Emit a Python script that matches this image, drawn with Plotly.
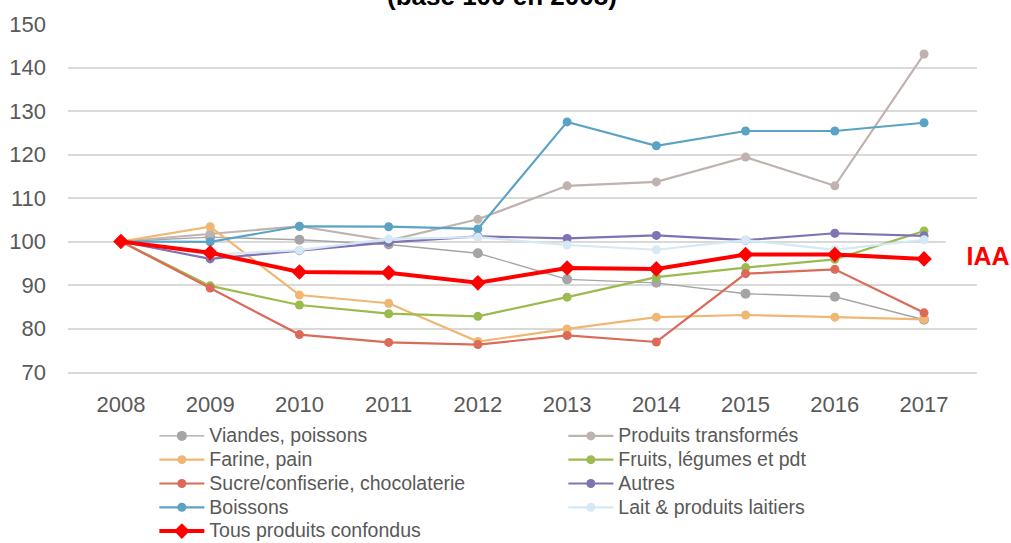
import plotly.graph_objects as go

# Indices des prix par filière (base 100 en 2008)
years = ["2008", "2009", "2010", "2011", "2012", "2013", "2014", "2015", "2016", "2017"]

viandes = [100, 101.0, 100.4, 99.3, 97.3, 91.3, 90.5, 88.0, 87.3, 82.0]
produits_transformes = [100, 101.8, 103.5, 100.2, 105.1, 112.8, 113.7, 119.4, 112.8, 143.1]
farine = [100, 103.4, 87.7, 85.8, 77.0, 79.9, 82.6, 83.1, 82.6, 82.1]
fruits = [100, 89.8, 85.4, 83.4, 82.8, 87.2, 91.8, 94.0, 95.9, 102.4]
sucre = [100, 89.3, 78.6, 76.8, 76.3, 78.4, 76.9, 92.6, 93.6, 83.6]
autres = [100, 96.0, 97.9, 99.8, 101.2, 100.7, 101.4, 100.3, 101.9, 101.3]
boissons = [100, 99.9, 103.5, 103.4, 102.9, 127.5, 122.0, 125.4, 125.4, 127.3]
lait = [100, 97.0, 98.0, 100.6, 101.0, 99.2, 98.1, 100.3, 98.1, 100.4]
tous = [100, 97.4, 93.0, 92.8, 90.5, 93.9, 93.7, 97.0, 97.0, 96.0]

series = [
    ("Viandes, poissons", viandes, "#a5a5a5", 1.4, 10),
    ("Produits transformés", produits_transformes, "#bfb2af", 2.2, 9),
    ("Farine, pain", farine, "#f0b774", 2.2, 9),
    ("Fruits, légumes et pdt", fruits, "#9bbb4f", 2.2, 9),
    ("Sucre/confiserie, chocolaterie", sucre, "#dc6a58", 2.2, 9),
    ("Autres", autres, "#8072b3", 2.2, 9),
    ("Boissons", boissons, "#5ba3c4", 2.2, 9),
    ("Lait & produits laitiers", lait, "#d4e8f5", 2.2, 9),
]

FONT = "Liberation Sans, Arial, sans-serif"


def legend_label(text):
    # larger glyphs while keeping the compact legend row spacing
    return f'<span style="font-size:19.5px">{text}</span>'


fig = go.Figure()
for name, vals, color, lw, ms in series:
    fig.add_trace(go.Scatter(
        x=years, y=vals, name=legend_label(name), mode="lines+markers",
        line=dict(color=color, width=lw),
        marker=dict(color=color, size=ms, symbol="circle"),
    ))

fig.add_trace(go.Scatter(
    x=years, y=tous, name=legend_label("Tous produits confondus"),
    mode="lines+markers",
    line=dict(color="#ff0000", width=4),
    marker=dict(color="#ff0000", size=12, symbol="diamond"),
))

# Title sitting at the top edge of the page
fig.add_annotation(
    text="<b>(base 100 en 2008)</b>", xref="paper", yref="paper",
    x=0.477, y=1.032, xanchor="center", yanchor="bottom", showarrow=False,
    font=dict(family=FONT, size=26, color="#000000"),
)

# IAA label on a white box
fig.add_annotation(
    text="<b>IAA</b>", xref="paper", yref="y",
    x=1.0126, y=96.6, xanchor="center", yanchor="middle", showarrow=False,
    width=80, height=32, bgcolor="#ffffff", borderpad=2,
    font=dict(family=FONT, size=25, color="#ff0000"),
)

fig.update_layout(
    width=1011, height=543,
    margin=dict(l=67.5, r=33.5, t=24, b=171, autoexpand=False),
    paper_bgcolor="#ffffff", plot_bgcolor="#ffffff",
    font=dict(family=FONT, color="#595959"),
    showlegend=True,
    legend=dict(
        orientation="h", x=0.095, y=-0.135, xanchor="left", yanchor="top",
        entrywidth=349, entrywidthmode="pixels",
        itemwidth=45, tracegroupgap=0,
        font=dict(family=FONT, size=16.0, color="#595959"),
        bgcolor="rgba(0,0,0,0)",
    ),
    xaxis=dict(
        type="category", showgrid=False, zeroline=False,
        showline=True, linecolor="#d9d9d9", linewidth=1.5, ticks="",
        tickfont=dict(family=FONT, size=22, color="#595959"),
        ticklabelstandoff=12,
    ),
    yaxis=dict(
        range=[70, 150], dtick=10, tick0=70,
        showgrid=True, gridcolor="#d9d9d9", gridwidth=1.5,
        zeroline=False, showline=False, ticks="",
        tickfont=dict(family=FONT, size=22, color="#595959"),
        ticklabelstandoff=21,
    ),
)

fig.write_html("out.html")
